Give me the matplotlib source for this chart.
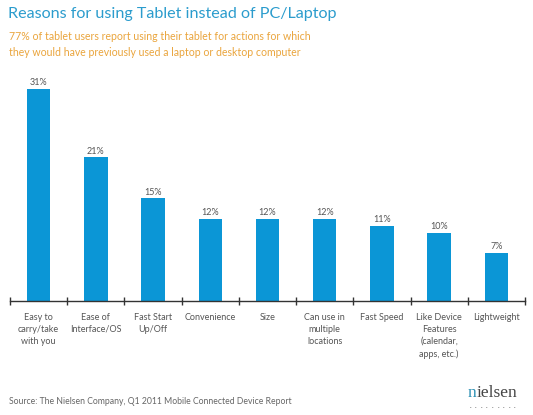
import matplotlib.pyplot as plt

categories = ['Easy to\ncarry/take\nwith you', 'Ease of\nInterface/OS', 'Fast Start\nUp/Off',
              'Convenience', 'Size', 'Can use in\nmultiple\nlocations', 'Fast Speed',
              'Like Device\nFeatures\n(calendar,\napps, etc.)', 'Lightweight']
values = [31, 21, 15, 12, 12, 12, 11, 10, 7]

W, H = 533, 415
fig = plt.figure(figsize=(W / 100, H / 100), dpi=100)
plt.rcParams['font.family'] = ['Lato', 'DejaVu Sans']

# axes placed in pixel coords: axis line y=301, 31% top y=89, x 10..525
ax = fig.add_axes([10 / W, 1 - 301 / H, 515 / W, (301 - 89) / H])
n = len(values)
xs = [i + 0.5 for i in range(n)]
ax.bar(xs, values, width=0.41, color='#0b96d6')
for x, v in zip(xs, values):
    ax.text(x, v + 0.25, f'{v}%', ha='center', va='bottom', fontsize=6.5, color='#555555')
ax.set_xlim(0, n)
ax.set_ylim(0, 31)
for s in ['top', 'right', 'left']:
    ax.spines[s].set_visible(False)
ax.spines['bottom'].set_color('#333333')
ax.spines['bottom'].set_linewidth(1.0)
ax.set_yticks([])
ax.set_xticks(range(n + 1))
ax.set_xticklabels([])
ax.tick_params(axis='x', direction='inout', length=6, width=1, color='#333333')
for x, lab in zip(xs, categories):
    ax.text(x, -1.7, lab, ha='center', va='top', fontsize=6.5, color='#555555',
            linespacing=1.45)

fig.text(8 / W, 1 - 14 / H, 'Reasons for using Tablet instead of PC/Laptop',
         fontsize=11.6, color='#2b9ccd', va='center', ha='left')
fig.text(9 / W, 1 - 37 / H, '77% of tablet users report using their tablet for actions for which',
         fontsize=7.6, color='#eaa53d', va='center', ha='left')
fig.text(9 / W, 1 - 52 / H, 'they would have previously used a laptop or desktop computer',
         fontsize=7.6, color='#eaa53d', va='center', ha='left')
fig.text(9 / W, 1 - 401 / H, 'Source: The Nielsen Company, Q1 2011 Mobile Connected Device Report',
         fontsize=6.2, color='#666666', va='center', ha='left')

# nielsen wordmark
renderer = fig.canvas.get_renderer()
t_n = fig.text(468 / W, 1 - 397 / H, 'n', fontsize=12.5, family='Liberation Serif',
               color='#2a8fb3', va='baseline', ha='left')
bb = t_n.get_window_extent(renderer)
fig.text(bb.x1 / W, 1 - 397 / H, 'ielsen', fontsize=12.5, family='Liberation Serif',
         color='#444444', va='baseline', ha='left')
for i in range(9):
    fig.text((470 + i * 5.6) / W, 1 - 405 / H, '.', fontsize=5, color='#555555',
             va='center', ha='center')

fig.savefig('out.png', dpi=100)
